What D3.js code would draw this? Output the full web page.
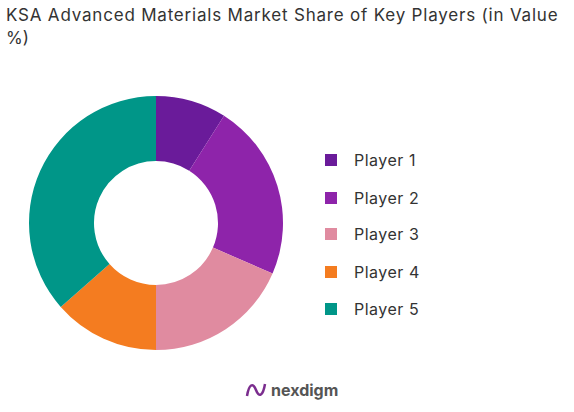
<!DOCTYPE html><html><head><meta charset="utf-8">
<script src="https://cdn.jsdelivr.net/npm/d3@7"></script>
<style>body{margin:0;background:#fff}</style></head><body>
<svg id="c" width="574" height="412"></svg>
<script>
const categories=["Player 1","Player 2","Player 3","Player 4","Player 5"];
const values=[9,22.5,18.5,13.5,36.5];
const colors=["#6a1b9a","#8e24aa","#e08ba0","#f47c20","#009688"];
const legendY=[160,198,234,272,309];
const svg=d3.select("#c");
const F="Inter, 'Open Sans', sans-serif";
svg.append("text").attr("x",6).attr("y",21).attr("font-family",F).attr("font-size",17).attr("letter-spacing",0.8).attr("fill","#333").text("KSA Advanced Materials Market Share of Key Players (in Value");
svg.append("text").attr("x",6).attr("y",44).attr("font-family",F).attr("font-size",17).attr("fill","#333").text("%)");
const pie=d3.pie().sort(null)(values);
const arc=d3.arc().innerRadius(62).outerRadius(127);
const g=svg.append("g").attr("transform","translate(156,223)");
g.selectAll("path").data(pie).join("path").attr("d",arc).attr("fill",(d,i)=>colors[i]);
const lg=svg.append("g");
categories.forEach((c,i)=>{
 lg.append("rect").attr("x",325).attr("y",legendY[i]-6).attr("width",12).attr("height",12).attr("fill",colors[i]);
 lg.append("text").attr("x",354).attr("y",legendY[i]+6).attr("font-family",F).attr("font-size",16).attr("letter-spacing",0.5).attr("fill","#333").text(c);
});
const lo=svg.append("g");
lo.append("path").attr("d","M247 396 C249 384 253 382 256 390 C259 398 263 396 265 384").attr("fill","none").attr("stroke","#7b2d8e").attr("stroke-width",2.5);
lo.append("text").attr("x",271).attr("y",396).attr("font-family",F).attr("font-weight","bold").attr("font-size",16).attr("fill","#555").text("nexdigm");
</script></body></html>
